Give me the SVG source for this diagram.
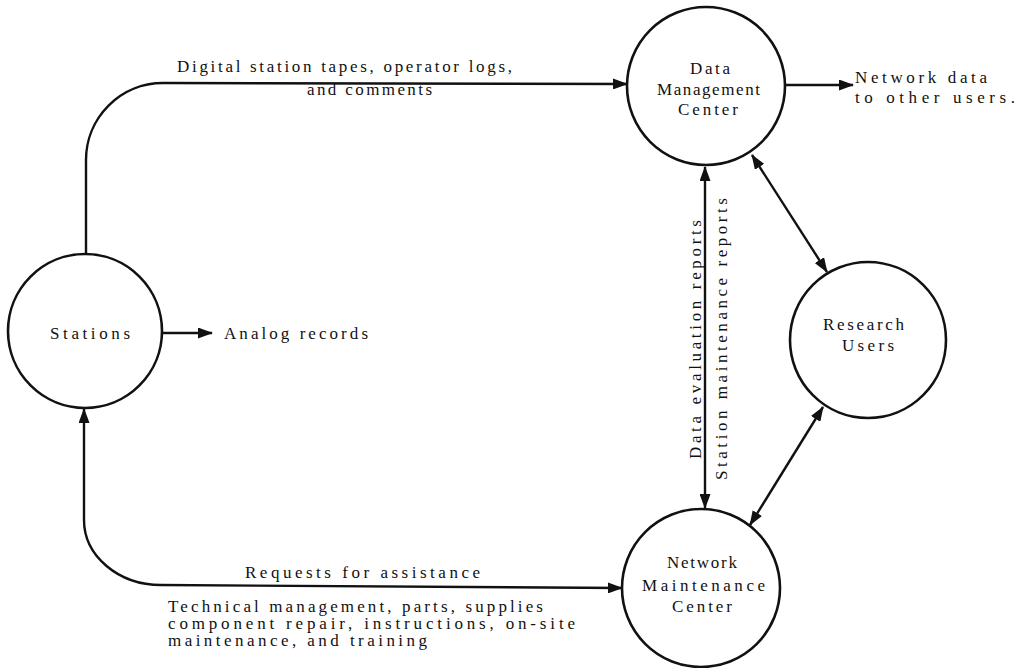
<svg xmlns="http://www.w3.org/2000/svg" width="1027" height="668" viewBox="0 0 1027 668">
<style>
  .node { fill: none; stroke: #111; stroke-width: 2.6; }
  .edge { fill: none; stroke: #111; stroke-width: 2.4; }
  text { font-family: "Liberation Serif", "DejaVu Serif", serif; font-size: 17px; fill: #111; }
</style>
<defs>
  <marker id="ah" markerUnits="userSpaceOnUse" markerWidth="15" markerHeight="11" refX="14" refY="5.5" orient="auto-start-reverse">
    <path d="M0,0 L15,5.5 L0,11 z" fill="#111"/>
  </marker>
</defs>
<rect width="1027" height="668" fill="#fff"/>
<g id="connectors">
  <path class="edge" d="M86,254 L86,160 A77,77 0 0 1 163,83 L627,84" marker-end="url(#ah)"/>
  <path class="edge" d="M785,85 L853,85" marker-end="url(#ah)"/>
  <path class="edge" d="M162,333 L212,333" marker-end="url(#ah)"/>
  <path class="edge" d="M84,409 L84,520 A77,65 0 0 0 161,585 L622,588" marker-start="url(#ah)" marker-end="url(#ah)"/>
  <path class="edge" d="M705,167 L705,508" marker-start="url(#ah)" marker-end="url(#ah)"/>
  <path class="edge" d="M752,155 L827,272" marker-start="url(#ah)" marker-end="url(#ah)"/>
  <path class="edge" d="M823,407 L750,525" marker-start="url(#ah)" marker-end="url(#ah)"/>
  <text x="177" y="72" textLength="335" lengthAdjust="spacing">Digital station tapes, operator logs,</text>
  <text x="307" y="95" textLength="125" lengthAdjust="spacing">and comments</text>
  <text x="855" y="83" textLength="132" lengthAdjust="spacing">Network data</text>
  <text x="855" y="103" textLength="160" lengthAdjust="spacing">to other users.</text>
  <text x="224" y="339" textLength="144" lengthAdjust="spacing">Analog records</text>
  <text transform="translate(701,459) rotate(-90)" x="0" y="0" textLength="239" lengthAdjust="spacing">Data evaluation reports</text>
  <text transform="translate(727,480) rotate(-90)" x="0" y="0" textLength="282" lengthAdjust="spacing">Station maintenance reports</text>
  <text x="245" y="578" textLength="235" lengthAdjust="spacing">Requests for assistance</text>
  <text x="168" y="612" textLength="375" lengthAdjust="spacing">Technical management, parts, supplies</text>
  <text x="168" y="629" textLength="407" lengthAdjust="spacing">component repair, instructions, on-site</text>
  <text x="168" y="646" textLength="259" lengthAdjust="spacing">maintenance, and training</text>
</g>
<g id="stations">
  <circle class="node" cx="85" cy="331" r="77"/>
  <text x="50" y="339" textLength="80" lengthAdjust="spacing">Stations</text>
</g>
<g id="data-management-center">
  <circle class="node" cx="706" cy="86" r="79"/>
  <text x="690" y="74" textLength="40" lengthAdjust="spacing">Data</text>
  <text x="657" y="95" textLength="103" lengthAdjust="spacing">Management</text>
  <text x="678" y="115" textLength="60" lengthAdjust="spacing">Center</text>
</g>
<g id="research-users">
  <circle class="node" cx="868" cy="340" r="78"/>
  <text x="823" y="330" textLength="81" lengthAdjust="spacing">Research</text>
  <text x="842" y="351" textLength="52" lengthAdjust="spacing">Users</text>
</g>
<g id="network-maintenance-center">
  <circle class="node" cx="701" cy="588" r="79"/>
  <text x="667" y="568" textLength="70" lengthAdjust="spacing">Network</text>
  <text x="642" y="591" textLength="123" lengthAdjust="spacing">Maintenance</text>
  <text x="672" y="612" textLength="60" lengthAdjust="spacing">Center</text>
</g>
</svg>
